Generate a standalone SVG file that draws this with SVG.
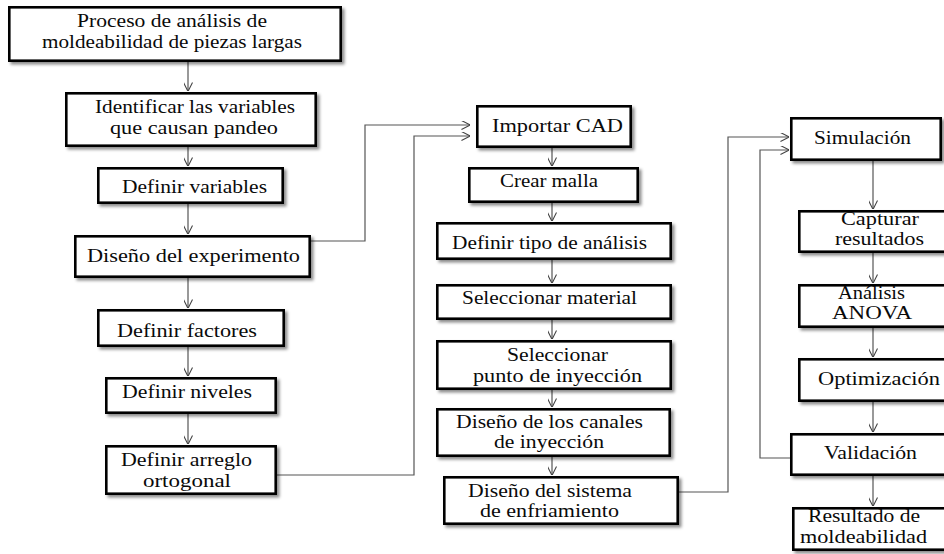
<svg xmlns="http://www.w3.org/2000/svg" width="944" height="554" viewBox="0 0 944 554">
<defs>
<filter id="sh" x="-10%" y="-20%" width="130%" height="160%">
<feDropShadow dx="2.5" dy="2.5" stdDeviation="1.5" flood-color="#000" flood-opacity="0.45"/>
</filter>
<marker id="ah" viewBox="0 0 10 10" refX="9.5" refY="5" markerWidth="9" markerHeight="9" markerUnits="userSpaceOnUse" orient="auto">
<path d="M0,0 L10,5 L0,10" fill="none" stroke="#444" stroke-width="1.2"/>
</marker>
</defs>
<style>
.b{fill:#fff;stroke:#000;stroke-width:2.6;filter:url(#sh)}
.t{font-family:"Liberation Serif","Times New Roman",serif;font-size:19px;fill:#0a0a0a}
.c{fill:none;stroke:#555;stroke-width:1.2;marker-end:url(#ah)}
</style>
<rect width="944" height="554" fill="#fff"/>
<g id="connectors">
<path class="c" d="M188,62 V91"/>
<path class="c" d="M188,147 V166"/>
<path class="c" d="M188,204 V234"/>
<path class="c" d="M188,278 V308"/>
<path class="c" d="M188,347 V376"/>
<path class="c" d="M188,414 V444"/>
<path class="c" d="M311,241 H365 V125 H470"/>
<path class="c" d="M277,475 H414 V136 H470"/>
<path class="c" d="M552,148 V166"/>
<path class="c" d="M552,203 V221"/>
<path class="c" d="M552,260 V283"/>
<path class="c" d="M552,320 V339"/>
<path class="c" d="M552,390 V407"/>
<path class="c" d="M552,457 V475"/>
<path class="c" d="M679,492 H728 V137 H789"/>
<path class="c" d="M790,458 H760 V150 H789"/>
<path class="c" d="M873,161 V209"/>
<path class="c" d="M873,253 V283"/>
<path class="c" d="M873,328 V357"/>
<path class="c" d="M873,402 V432"/>
<path class="c" d="M873,476 V506"/>
</g>
<g id="n1"><rect class="b" x="9.3" y="7.3" width="331.4" height="53.4"/>
<text class="t" x="77" y="27" textLength="190" lengthAdjust="spacingAndGlyphs">Proceso de análisis de</text>
<text class="t" x="42" y="48" textLength="260" lengthAdjust="spacingAndGlyphs">moldeabilidad de piezas largas</text></g>
<g id="n2"><rect class="b" x="66.3" y="93.3" width="249.4" height="52.4"/>
<text class="t" x="95" y="113" textLength="200" lengthAdjust="spacingAndGlyphs">Identificar las variables</text>
<text class="t" x="110" y="134" textLength="168" lengthAdjust="spacingAndGlyphs">que causan pandeo</text></g>
<g id="n3"><rect class="b" x="98.3" y="168.3" width="184.4" height="34.4"/>
<text class="t" x="122" y="193" textLength="145" lengthAdjust="spacingAndGlyphs">Definir variables</text></g>
<g id="n4"><rect class="b" x="75.3" y="236.3" width="234.4" height="40.4"/>
<text class="t" x="87" y="262" textLength="213" lengthAdjust="spacingAndGlyphs">Diseño del experimento</text></g>
<g id="n5"><rect class="b" x="98.3" y="310.3" width="185.4" height="35.4"/>
<text class="t" x="117" y="337" textLength="140" lengthAdjust="spacingAndGlyphs">Definir factores</text></g>
<g id="n6"><rect class="b" x="106.3" y="378.3" width="169.4" height="34.4"/>
<text class="t" x="122" y="398" textLength="130" lengthAdjust="spacingAndGlyphs">Definir niveles</text></g>
<g id="n7"><rect class="b" x="106.3" y="446.3" width="169.4" height="47.4"/>
<text class="t" x="121" y="466" textLength="131" lengthAdjust="spacingAndGlyphs">Definir arreglo</text>
<text class="t" x="143" y="487" textLength="88" lengthAdjust="spacingAndGlyphs">ortogonal</text></g>
<g id="m1"><rect class="b" x="477.3" y="106.3" width="153.4" height="40.4"/>
<text class="t" x="492" y="132" textLength="131" lengthAdjust="spacingAndGlyphs">Importar CAD</text></g>
<g id="m2"><rect class="b" x="469.3" y="168.3" width="168.4" height="33.4"/>
<text class="t" x="500" y="187" textLength="98" lengthAdjust="spacingAndGlyphs">Crear malla</text></g>
<g id="m3"><rect class="b" x="437.3" y="223.3" width="233.4" height="35.4"/>
<text class="t" x="452" y="249" textLength="195" lengthAdjust="spacingAndGlyphs">Definir tipo de análisis</text></g>
<g id="m4"><rect class="b" x="437.3" y="285.3" width="233.4" height="33.4"/>
<text class="t" x="462" y="304" textLength="175" lengthAdjust="spacingAndGlyphs">Seleccionar material</text></g>
<g id="m5"><rect class="b" x="437.3" y="341.3" width="233.4" height="47.4"/>
<text class="t" x="507" y="361" textLength="101" lengthAdjust="spacingAndGlyphs">Seleccionar</text>
<text class="t" x="473" y="382" textLength="169" lengthAdjust="spacingAndGlyphs">punto de inyección</text></g>
<g id="m6"><rect class="b" x="437.3" y="409.3" width="232.4" height="46.4"/>
<text class="t" x="456" y="428" textLength="187" lengthAdjust="spacingAndGlyphs">Diseño de los canales</text>
<text class="t" x="494" y="448" textLength="110" lengthAdjust="spacingAndGlyphs">de inyección</text></g>
<g id="m7"><rect class="b" x="444.3" y="477.3" width="233.4" height="46.4"/>
<text class="t" x="468" y="497" textLength="164" lengthAdjust="spacingAndGlyphs">Diseño del sistema</text>
<text class="t" x="480" y="517" textLength="139" lengthAdjust="spacingAndGlyphs">de enfriamiento</text></g>
<g id="r1"><rect class="b" x="791.3" y="118.3" width="149.4" height="41.4"/>
<text class="t" x="814" y="144" textLength="97" lengthAdjust="spacingAndGlyphs">Simulación</text></g>
<g id="r2"><rect class="b" x="799.3" y="211.3" width="160" height="40.4"/>
<text class="t" x="841" y="225" textLength="78" lengthAdjust="spacingAndGlyphs">Capturar</text>
<text class="t" x="835" y="245" textLength="89" lengthAdjust="spacingAndGlyphs">resultados</text></g>
<g id="r3"><rect class="b" x="799.3" y="285.3" width="160" height="41.4"/>
<text class="t" x="838" y="299" textLength="67" lengthAdjust="spacingAndGlyphs">Análisis</text>
<text class="t" x="832" y="319" textLength="80" lengthAdjust="spacingAndGlyphs">ANOVA</text></g>
<g id="r4"><rect class="b" x="799.3" y="359.3" width="160" height="41.4"/>
<text class="t" x="818" y="385" textLength="122" lengthAdjust="spacingAndGlyphs">Optimización</text></g>
<g id="r5"><rect class="b" x="791.3" y="434.3" width="170" height="40.4"/>
<text class="t" x="824" y="459" textLength="93" lengthAdjust="spacingAndGlyphs">Validación</text></g>
<g id="r6"><rect class="b" x="793.3" y="508.3" width="170" height="41.4"/>
<text class="t" x="808" y="522" textLength="112" lengthAdjust="spacingAndGlyphs">Resultado de</text>
<text class="t" x="800" y="543" textLength="127" lengthAdjust="spacingAndGlyphs">moldeabilidad</text></g>
</svg>
